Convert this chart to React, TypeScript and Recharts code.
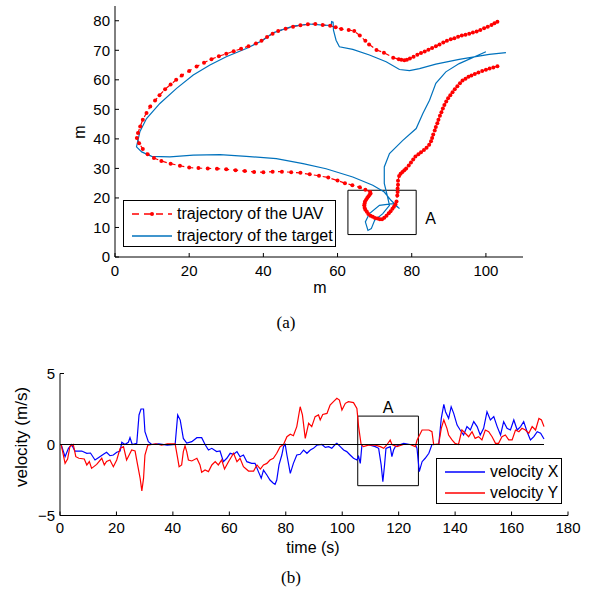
import { LineChart, Line, XAxis, YAxis, ReferenceArea, ReferenceLine } from "recharts";

const FONT = "'Liberation Sans', Arial, sans-serif";
const SERIF = "'Liberation Serif', 'Times New Roman', serif";

// (a) trajectories, metres
const uavX = [103.1, 102.3, 101.5, 100.5, 99.5, 98.5, 97.5, 96.5, 95.5, 94.5, 93.5, 92.5, 91.5, 90.5, 89.5, 88.5, 87.5, 86.5, 85.5, 84.5, 83.5, 82.5, 81.5, 80.5, 79.5, 78.7, 78.0, 77.2, 76.5, 75.0, 72.5, 70.5, 68.5, 67.5, 66.0, 64.5, 63.0, 61.0, 59.5, 58.0, 56.0, 54.0, 52.0, 50.0, 48.0, 46.0, 44.0, 42.5, 41.0, 39.5, 38.0, 36.0, 34.0, 32.0, 30.0, 28.0, 26.0, 24.0, 22.0, 20.0, 18.0, 16.5, 15.0, 13.5, 12.0, 10.8, 9.5, 8.5, 7.5, 6.8, 6.2, 5.9, 6.5, 7.5, 8.8, 10.5, 12.5, 15.0, 17.5, 20.0, 22.5, 25.0, 27.5, 30.0, 32.5, 35.0, 37.5, 40.0, 42.5, 45.0, 47.5, 50.0, 52.5, 55.0, 57.5, 60.0, 62.0, 64.0, 66.0, 67.5, 68.8, 68.9, 68.6, 68.3, 68.0, 67.7, 67.4, 67.3, 67.2, 67.3, 67.5, 67.9, 68.3, 68.9, 69.5, 70.1, 70.8, 71.4, 72.0, 72.6, 73.2, 73.8, 74.3, 74.8, 75.2, 75.6, 75.9, 76.1, 76.2, 76.2, 76.3, 76.3, 76.6, 77.0, 77.5, 78.0, 78.5, 79.2, 79.8, 80.4, 81.0, 81.8, 82.5, 83.3, 84.0, 84.7, 85.2, 85.5, 85.8, 86.2, 86.5, 86.9, 87.2, 87.6, 88.0, 88.4, 88.8, 89.3, 89.8, 90.4, 91.0, 91.6, 92.3, 93.0, 93.7, 94.5, 95.3, 96.1, 97.0, 98.0, 99.0, 100.0, 101.0, 102.0, 103.1];
const uavY = [79.7, 79.2, 78.6, 78.0, 77.5, 76.9, 76.4, 76.0, 75.6, 75.3, 75.0, 74.6, 74.1, 73.7, 73.2, 72.6, 72.0, 71.4, 70.8, 70.2, 69.6, 69.1, 68.5, 67.8, 67.2, 66.8, 66.6, 66.8, 67.0, 67.5, 69.2, 70.1, 72.0, 73.2, 75.0, 76.5, 76.9, 77.2, 77.8, 78.3, 78.6, 78.9, 78.8, 78.5, 78.0, 77.3, 76.5, 75.6, 74.5, 73.2, 72.3, 71.4, 70.5, 69.7, 68.8, 68.0, 67.0, 65.8, 64.5, 63.0, 61.5, 60.0, 58.4, 56.8, 54.8, 53.0, 51.0, 48.8, 46.5, 44.2, 42.0, 40.3, 38.5, 36.6, 34.8, 33.5, 32.5, 31.6, 30.9, 30.3, 30.1, 30.0, 29.9, 29.7, 29.4, 29.1, 28.8, 28.7, 28.9, 28.9, 28.7, 28.5, 28.0, 27.5, 26.9, 25.9, 25.0, 24.3, 23.6, 22.8, 22.0, 21.5, 21.0, 20.5, 20.0, 19.4, 18.8, 18.1, 17.5, 16.7, 16.0, 15.3, 14.6, 14.0, 13.6, 13.2, 13.0, 12.8, 12.8, 13.3, 14.0, 14.8, 15.5, 16.3, 17.0, 17.9, 18.8, 20.8, 22.0, 23.2, 24.5, 25.8, 27.4, 28.2, 28.8, 29.4, 30.0, 31.0, 32.0, 33.0, 34.0, 34.8, 35.5, 36.2, 37.0, 38.0, 39.2, 40.3, 41.5, 42.8, 44.0, 45.3, 46.5, 47.8, 49.0, 50.3, 51.5, 52.7, 53.8, 54.8, 55.8, 56.8, 57.8, 58.8, 59.8, 60.4, 61.0, 61.5, 62.0, 62.5, 63.0, 63.4, 63.8, 64.2, 64.6];

const targetX = [105.4, 100.9, 92.8, 86.5, 82.1, 79.4, 76.7, 73.1, 68.6, 64.1, 60.5, 59.6, 58.9, 58.8, 58.4, 58.3, 56.1, 52.5, 48.0, 42.6, 39.9, 35.4, 30.0, 25.6, 21.1, 16.6, 12.1, 8.5, 6.7, 5.8, 7.2, 9.9, 14.8, 21.1, 28.3, 35.4, 43.5, 50.7, 56.9, 64.1, 69.5, 72.6, 74.4, 76.7, 74.9, 71.3, 68.6, 67.5, 68.2, 69.1, 70.0, 72.2, 74.0, 73.5, 72.6, 72.6, 74.0, 77.6, 81.2, 83.0, 84.8, 86.5, 89.2, 92.8, 100.0];
const targetY = [69.2, 68.6, 66.9, 65.3, 63.8, 63.1, 63.5, 66.1, 68.4, 70.3, 71.2, 73.4, 76.8, 79.5, 79.7, 78.4, 78.5, 78.9, 78.2, 75.9, 73.4, 70.6, 67.8, 65.0, 61.6, 57.1, 52.0, 46.9, 42.4, 37.3, 35.6, 34.1, 33.9, 34.5, 34.7, 34.1, 33.3, 31.6, 29.9, 27.1, 24.3, 22.0, 19.2, 16.4, 18.1, 17.5, 14.7, 11.9, 9.0, 9.6, 12.4, 14.7, 17.5, 20.3, 24.9, 30.5, 35.0, 39.5, 43.5, 48.6, 53.1, 58.8, 62.7, 65.5, 69.5];

const mapTicksX = [0, 20, 40, 60, 80, 100];
const mapTicksY = [0, 10, 20, 30, 40, 50, 60, 70, 80];

// (b) velocities, m/s
const timeX = [0.4, 1.8, 3.0, 4.1, 5.3, 7.7, 9.5, 10.8, 12.4, 13.6, 15.4, 16.5, 17.7, 18.9, 20.1, 21.3, 21.9, 23.0, 24.2, 24.8, 25.6, 27.2, 28.0, 28.7, 29.6, 30.1, 31.3, 32.5, 35.0, 38.0, 40.8, 41.7, 42.6, 43.7, 44.9, 46.7, 48.5, 50.2, 51.4, 52.6, 53.8, 55.5, 56.7, 57.9, 59.1, 60.3, 61.5, 62.7, 63.8, 65.0, 66.2, 67.9, 69.1, 70.3, 71.3, 72.1, 73.3, 74.4, 75.6, 76.2, 76.8, 77.6, 78.6, 79.2, 79.8, 80.4, 81.6, 82.7, 83.9, 85.1, 86.3, 87.5, 88.7, 89.8, 91.0, 92.8, 94.0, 95.2, 96.3, 97.5, 98.1, 99.3, 100.5, 101.6, 102.8, 104.0, 105.2, 105.8, 106.4, 107.0, 109.0, 111.7, 112.9, 113.8, 114.4, 115.0, 115.5, 117.0, 117.6, 118.2, 118.8, 120.6, 121.8, 124.0, 125.9, 126.5, 127.3, 128.3, 129.4, 130.7, 131.8, 134.2, 135.1, 136.0, 136.6, 137.7, 138.6, 139.5, 140.7, 141.8, 143.0, 144.2, 145.4, 146.6, 147.8, 148.9, 150.1, 151.3, 152.5, 153.7, 154.9, 156.1, 157.2, 158.4, 159.6, 160.8, 162.0, 163.2, 164.3, 165.5, 166.7, 167.9, 169.1, 170.3, 171.5];
const velX = [0, -0.86, -0.27, 0, -0.46, -0.46, -0.62, -0.6, -1.09, -0.93, -0.69, -0.55, -0.79, -0.74, -0.55, -0.46, 0.15, 0, 0.15, 0.48, 0, 0.08, 2.08, 2.5, 2.5, 0.9, 0.2, 0, 0.05, -0.05, 0, 2.08, 1.72, 0.43, 0.1, 0.2, 0.48, 0.48, 0, -0.39, -0.27, -0.5, -0.46, -1.21, -0.97, -0.62, -0.69, -0.5, -0.86, -0.74, -1.21, -1.33, -1.33, -1.91, -2.38, -1.8, -2.15, -2.5, -2.73, -2.8, -2.5, -1.44, -0.74, -0.15, 0, -0.74, -2.03, -1.33, -0.74, -0.69, -0.39, -0.62, -0.39, -0.27, -0.05, 0, -0.2, -0.15, -0.27, 0, 0.08, -0.15, -0.39, -0.5, -0.74, -0.97, -1.09, -0.85, -1.33, 0, 0, -0.15, -0.27, -1.44, -2.62, -1.44, -0.27, -0.15, -0.86, -0.39, -0.15, 0, 0.08, 0, 0, -0.27, -1.91, -1.21, -0.97, -0.62, 0, 0, 1.84, 2.83, 2.31, 1.84, 2.66, 2.19, 1.37, 1.02, 0.67, 1.26, 1.02, 1.61, 1.26, 0.67, 1.14, 2.31, 1.73, 1.96, 1.26, 0.67, 1.61, 1.14, 1.02, 1.73, 1.02, 1.26, 1.61, 0.9, 0.32, 0.55, 0.9, 0.79, 0.39];

const timeY = [0.4, 1.8, 2.7, 3.5, 4.7, 5.6, 6.7, 8.6, 9.5, 10.4, 11.2, 13.0, 14.8, 15.7, 16.5, 17.7, 18.9, 20.1, 21.3, 22.5, 23.6, 24.5, 25.4, 26.6, 27.5, 28.4, 29.0, 29.6, 30.1, 31.1, 32.5, 34.0, 36.0, 38.0, 40.8, 41.7, 42.2, 43.1, 43.7, 44.3, 44.9, 45.5, 46.7, 48.5, 49.6, 50.2, 51.4, 52.6, 53.8, 55.0, 56.1, 57.3, 58.3, 59.7, 61.5, 62.7, 63.8, 65.0, 66.8, 68.6, 69.8, 71.0, 72.1, 73.3, 74.4, 75.6, 76.8, 78.0, 79.2, 80.4, 81.6, 82.7, 83.9, 85.1, 85.9, 86.9, 88.1, 89.2, 90.4, 91.6, 92.2, 93.1, 94.6, 95.7, 96.9, 98.1, 99.0, 99.9, 101.1, 102.2, 104.0, 105.2, 105.8, 106.7, 107.5, 109.3, 111.7, 113.5, 114.7, 115.9, 117.0, 117.6, 119.4, 121.7, 124.1, 125.9, 126.5, 127.1, 128.3, 130.7, 131.8, 132.4, 134.2, 135.1, 136.0, 137.1, 137.7, 138.9, 140.0, 141.2, 142.4, 143.6, 144.8, 146.0, 147.1, 148.3, 149.5, 150.7, 151.9, 153.1, 154.3, 155.4, 156.6, 157.8, 159.0, 160.2, 161.4, 162.6, 163.7, 164.9, 166.1, 167.3, 168.5, 169.7, 170.6, 171.5];
const velY = [0, -1.33, -1.02, -0.15, 0, -0.86, -0.97, -1.02, -1.44, -1.2, -1.68, -1.4, -0.97, -1.44, -1.2, -1.09, -1.56, -1.09, -0.27, -0.15, -1.09, -0.74, -0.39, -0.46, -1.44, -2.39, -3.27, -2.39, -0.74, -0.05, 0, 0.05, -0.05, 0.05, 0.05, -0.97, -1.56, -1.44, -0.5, -0.1, -0.5, -1.09, -1.16, -0.97, -1.44, -1.96, -1.8, -1.91, -1.44, -1.21, -1.44, -1.09, -1.73, -1.21, -0.62, -1.21, -0.97, -1.56, -1.87, -1.87, -1.44, -1.73, -1.44, -1.33, -1.09, -0.97, -0.62, -0.15, 0, 0.55, 0.72, 0.62, 1.26, 2.66, 2.08, 0.43, 1.49, 1.26, 1.96, 2.08, 1.73, 2.12, 2.19, 2.78, 3.02, 3.25, 3.13, 2.43, 2.9, 3.02, 2.95, 2.54, 1.26, 0, -0.15, -0.05, -0.05, -0.15, -0.27, 0, 0.32, 0, -0.15, 0, 0, -0.15, 0.3, 0.55, 1.02, 1.02, 0.9, 0, 0.05, 1.14, 1.73, 1.14, 0.67, 0.32, 0.08, 0, 1.02, 0.79, 0.55, 0.9, 0.43, 0.55, 0.32, 1.02, 0.9, 0.55, 0.08, 0.08, 0.55, 0.67, 0.32, 0.32, 1.02, 0.9, 1.14, 1.02, 0.79, 1.26, 1.02, 1.84, 1.73, 1.26];

const timeTicks = [0, 20, 40, 60, 80, 100, 120, 140, 160, 180];
const velTicks = [-5, 0, 5];

const uavData = uavX.map((x, i) => ({ x, y: uavY[i] }));
const targetData = targetX.map((x, i) => ({ x, y: targetY[i] }));
const vxData = timeX.map((t, i) => ({ t, v: velX[i] }));
const vyData = timeY.map((t, i) => ({ t, v: velY[i] }));

const tickStyle = { fill: "#000", fontSize: 15, fontFamily: FONT };

function UavDot(props: any) {
  const { cx, cy, index } = props;
  return <circle key={index} cx={cx} cy={cy} r={2} fill="#ff0000" stroke="none" />;
}

function LegendRow({ top, label, color, dashed }: { top: number; label: string; color: string; dashed?: boolean }) {
  return (
    <div style={{ position: "absolute", left: 0, top: top - 10, height: 20, width: "100%" }}>
      <svg width={50} height={20} style={{ position: "absolute", left: 0, top: 0 }}>
        <line x1={8} y1={10} x2={48} y2={10} stroke={color} strokeWidth={1.3} strokeDasharray={dashed ? "7 5" : undefined} />
        {dashed && <circle cx={28} cy={10} r={2} fill={color} />}
      </svg>
      <span style={{ position: "absolute", left: 53, top: 0, lineHeight: "20px", fontSize: 16, whiteSpace: "nowrap" }}>{label}</span>
    </div>
  );
}

export default function App() {
  return (
    <div style={{ position: "absolute", left: 0, top: 0, width: 596, height: 595, background: "#fff", fontFamily: FONT, color: "#000" }}>
      <div style={{ position: "absolute", left: 0, top: 0 }}>
        <LineChart width={596} height={300} margin={{ top: 6, right: 73, left: 75, bottom: 13 }}>
          <XAxis
            type="number"
            dataKey="x"
            domain={[0, 110]}
            ticks={mapTicksX}
            height={30}
            stroke="#000"
            tickSize={-4}
            tickMargin={12}
            tick={tickStyle}
            allowDataOverflow
          />
          <YAxis
            type="number"
            dataKey="y"
            domain={[0, 85]}
            ticks={mapTicksY}
            width={40}
            stroke="#000"
            tickSize={-4}
            tickMargin={9}
            tick={tickStyle}
            allowDataOverflow
          />
          <ReferenceArea
            x1={62.8}
            x2={81.2}
            y1={7.6}
            y2={22.6}
            fill="none"
            stroke="#000"
            strokeWidth={1}
            label={{ value: "A", position: "right", offset: 9, fontSize: 16, fill: "#000", fontFamily: FONT, dy: 6 }}
          />
          <Line
            data={uavData}
            dataKey="y"
            type="linear"
            stroke="#ff0000"
            strokeWidth={1.2}
            strokeDasharray="5 4"
            dot={UavDot}
            isAnimationActive={false}
          />
          <Line data={targetData} dataKey="y" type="linear" stroke="#0072bd" strokeWidth={1.2} dot={false} isAnimationActive={false} />
        </LineChart>
      </div>

      <div style={{ position: "absolute", left: 320, top: 288, transform: "translate(-50%, -50%)", fontSize: 16 }}>m</div>
      <div style={{ position: "absolute", left: 80, top: 132, transform: "translate(-50%, -50%) rotate(-90deg)", fontSize: 16 }}>m</div>

      <div style={{ position: "absolute", left: 123, top: 200, width: 211, height: 45, border: "1.2px solid #000", background: "#fff" }}>
        <LegendRow top={13} label="trajectory of the UAV" color="#ff0000" dashed />
        <LegendRow top={35} label="trajectory of the target" color="#0072bd" />
      </div>

      <div style={{ position: "absolute", left: 286, top: 323, transform: "translate(-50%, -50%)", fontFamily: SERIF, fontSize: 17 }}>(a)</div>

      <div style={{ position: "absolute", left: 0, top: 350 }}>
        <LineChart width={596} height={200} margin={{ top: 23.5, right: 28, left: 20, bottom: 4.5 }}>
          <XAxis
            type="number"
            dataKey="t"
            domain={[0, 180]}
            ticks={timeTicks}
            height={30}
            stroke="#000"
            tickSize={-4}
            tickMargin={11}
            tick={tickStyle}
            allowDataOverflow
          />
          <YAxis
            type="number"
            dataKey="v"
            domain={[-5, 5]}
            ticks={velTicks}
            width={40}
            stroke="#000"
            tickSize={-4}
            tickMargin={9}
            tick={tickStyle}
            tickFormatter={(v: number) => String(v).replace("-", "\u2212")}
            allowDataOverflow
          />
          <Line data={vxData} dataKey="v" type="linear" stroke="#0000ff" strokeWidth={1.2} dot={false} isAnimationActive={false} />
          <Line data={vyData} dataKey="v" type="linear" stroke="#ff0000" strokeWidth={1.2} dot={false} isAnimationActive={false} />
          <ReferenceLine segment={[{ x: 0, y: 0 }, { x: 171.5, y: 0 }]} stroke="#000" strokeWidth={1.2} />
          <ReferenceArea
            x1={105.5}
            x2={127}
            y1={-2.9}
            y2={2.0}
            fill="none"
            stroke="#000"
            strokeWidth={1}
            label={{ value: "A", position: "top", offset: 3, fontSize: 16, fill: "#000", fontFamily: FONT }}
          />
        </LineChart>
      </div>

      <div style={{ position: "absolute", left: 313, top: 548, transform: "translate(-50%, -50%)", fontSize: 16, whiteSpace: "nowrap" }}>time (s)</div>
      <div style={{ position: "absolute", left: 22, top: 437, transform: "translate(-50%, -50%) rotate(-90deg)", fontSize: 17, whiteSpace: "nowrap" }}>velocity (m/s)</div>

      <div style={{ position: "absolute", left: 436, top: 458, width: 124, height: 44, border: "1.2px solid #000", background: "#fff" }}>
        <LegendRow top={13} label="velocity X" color="#0000ff" />
        <LegendRow top={34} label="velocity Y" color="#ff0000" />
      </div>

      <div style={{ position: "absolute", left: 291, top: 578, transform: "translate(-50%, -50%)", fontFamily: SERIF, fontSize: 17 }}>(b)</div>
    </div>
  );
}
